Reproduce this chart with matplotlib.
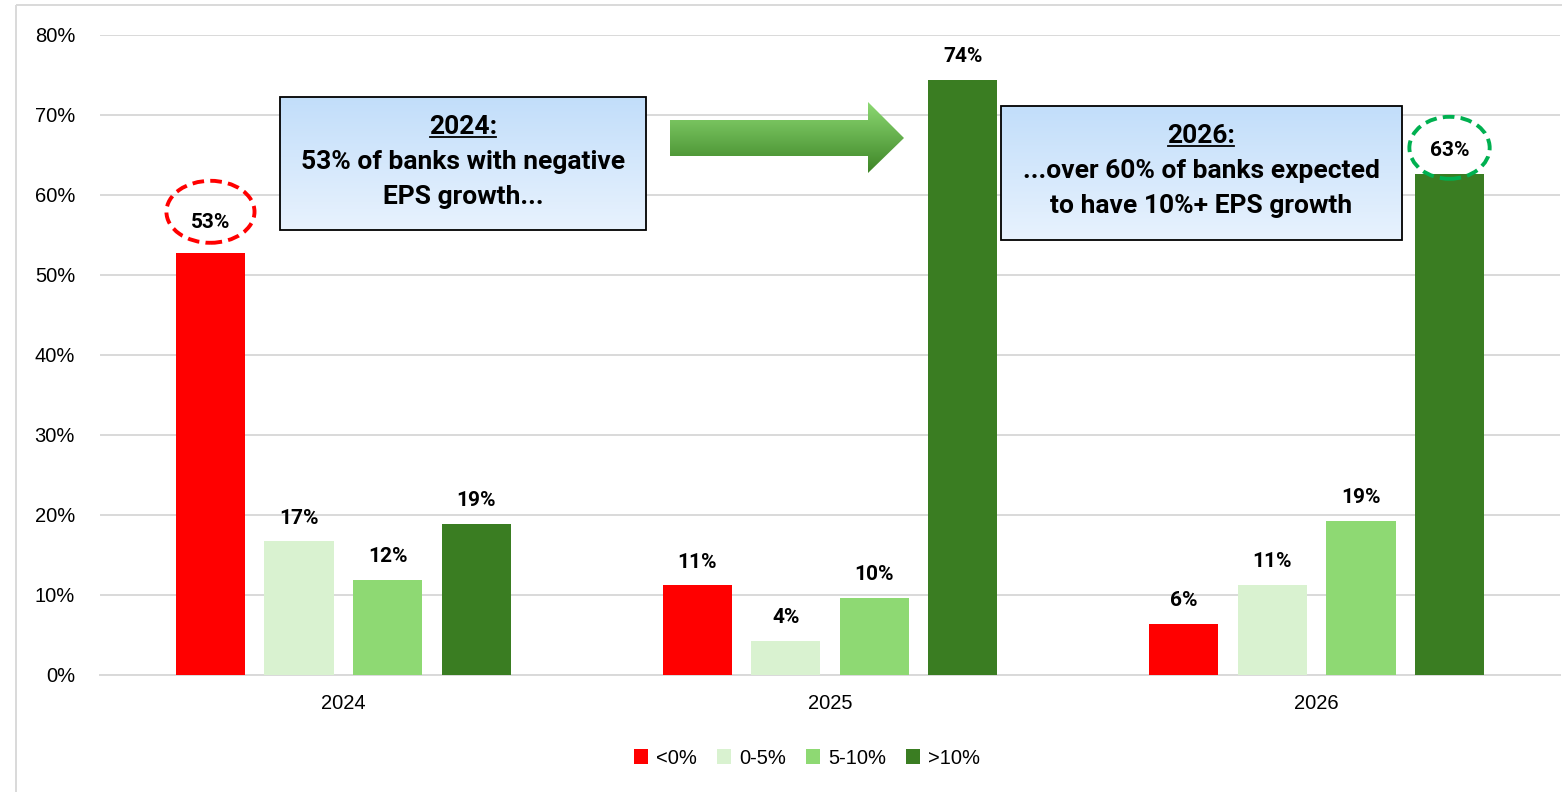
import numpy as np
import matplotlib
matplotlib.use("Agg")
import matplotlib.pyplot as plt
from matplotlib.patches import Rectangle, Ellipse, Polygon
from matplotlib.lines import Line2D

# ---- data ----
years = ["2024", "2025", "2026"]
series_names = ["<0%", "0-5%", "5-10%", ">10%"]
neg = [52.8, 11.2, 6.4]
low = [16.7, 4.3, 11.3]
mid = [11.9, 9.6, 19.3]
high = [18.9, 74.4, 62.6]
labels_neg = ["53%", "11%", "6%"]
labels_low = ["17%", "4%", "11%"]
labels_mid = ["12%", "10%", "19%"]
labels_high = ["19%", "74%", "63%"]
colors = ["#FF0000", "#D9F2D0", "#8ED973", "#3A7D22"]
yticks = [0, 10, 20, 30, 40, 50, 60, 70, 80]
ytick_labels = ["0%", "10%", "20%", "30%", "40%", "50%", "60%", "70%", "80%"]
box1_title = "2024:"
box1_lines = ["53% of banks with negative", "EPS growth..."]
box2_title = "2026:"
box2_lines = ["...over 60% of banks expected", "to have 10%+ EPS growth"]

W, H = 1562, 792
fig = plt.figure(figsize=(W / 100, H / 100), dpi=100)
fig.patch.set_facecolor("white")

ax = fig.add_axes([100 / W, 1 - 675 / H, 1460 / W, 640 / H])
x = np.arange(len(years))
bw = 0.142
step = 0.182
all_series = [neg, low, mid, high]
all_labels = [labels_neg, labels_low, labels_mid, labels_high]
for i, (vals, labs) in enumerate(zip(all_series, all_labels)):
    pos = x + (i - 1.5) * step
    bars = ax.bar(pos, vals, width=bw, color=colors[i], label=series_names[i], zorder=3)
    for j, (b, lab, v) in enumerate(zip(bars, labs, vals)):
        off = 15 if (i == 0 and j == 0) else 10
        ax.annotate(lab, (b.get_x() + b.get_width() / 2, v), xytext=(0, off),
                    textcoords="offset points", ha="center", va="bottom",
                    fontsize=15, fontweight="bold", family="Roboto", color="#000000", zorder=5)

ax.set_xlim(-0.5, 2.5)
ax.set_ylim(0, 80)
ax.set_yticks(yticks)
ax.set_yticklabels(ytick_labels)
ax.set_xticks(x)
ax.set_xticklabels(years)
ax.tick_params(axis="both", length=0, labelsize=14.5, colors="#000000")
ax.tick_params(axis="y", pad=18)
ax.tick_params(axis="x", pad=14)
for lab in ax.get_xticklabels() + ax.get_yticklabels():
    lab.set_family("Liberation Sans")
ax.grid(axis="y", color="#D9D9D9", linewidth=1.4, zorder=0)
for s in ["top", "right", "left"]:
    ax.spines[s].set_visible(False)
ax.spines["bottom"].set_color("#D9D9D9")
ax.spines["bottom"].set_linewidth(1.4)
ax.set_facecolor("none")

# ellipses around highlighted labels (data coords)
ax.add_patch(Ellipse((x[0] - 1.5 * step, 57.9), 0.181, 7.75, fill=False,
                     edgecolor="#FF0000", linestyle=(0, (3, 1.6)), linewidth=2.8, zorder=6, clip_on=False))
ax.add_patch(Ellipse((x[2] + 1.5 * step, 65.9), 0.165, 7.75, fill=False,
                     edgecolor="#00B050", linestyle=(0, (3, 1.6)), linewidth=2.8, zorder=6, clip_on=False))

leg = fig.legend(loc="center", bbox_to_anchor=(807 / W, 1 - 758 / H), ncol=4, frameon=False,
                 handlelength=0.7, handleheight=0.7, handletextpad=0.4, columnspacing=1.0,
                 prop={"family": "Liberation Sans", "size": 14.5})

# overlay axes in pixel coordinates
ov = fig.add_axes([0, 0, 1, 1], zorder=10)
ov.set_xlim(0, W)
ov.set_ylim(H, 0)
ov.axis("off")
ov.patch.set_alpha(0)

# figure frame
ov.add_patch(Rectangle((16, 5), W + 20, H + 20, fill=False, edgecolor="#D9D9D9", linewidth=1.4))

def grad_box(x0, y0, x1, y1):
    grad = np.linspace(0, 1, 256).reshape(-1, 1)
    c_top = np.array([0.76, 0.87, 0.98])
    c_bot = np.array([0.91, 0.95, 0.995])
    img = c_top + (c_bot - c_top) * grad[..., None]
    img = img.reshape(256, 1, 3)
    ov.imshow(img, extent=(x0, x1, y1, y0), aspect="auto", zorder=11)
    ov.add_patch(Rectangle((x0, y0), x1 - x0, y1 - y0, fill=False, edgecolor="black", linewidth=1.3, zorder=12))

grad_box(280, 97, 646, 230)
grad_box(1001, 106, 1402, 240)

tfont = dict(fontsize=19, fontweight="bold", family="Roboto", ha="center", va="center", zorder=13)
t1 = ov.text(463, 127, box1_title, **tfont)
ov.text(463, 162, box1_lines[0], **tfont)
ov.text(463, 197, box1_lines[1], **tfont)
t2 = ov.text(1201, 136, box2_title, **tfont)
ov.text(1201, 171, box2_lines[0], **tfont)
ov.text(1201, 206, box2_lines[1], **tfont)

# arrow with gradient
arrow_pts = [(670, 120), (868, 120), (868, 102), (904, 138), (868, 173), (868, 156), (670, 156)]
poly = Polygon(arrow_pts, closed=True, facecolor="none", edgecolor="none", zorder=11)
ov.add_patch(poly)
g = np.linspace(0, 1, 256).reshape(-1, 1)
c_top = np.array([0.55, 0.85, 0.45])
c_bot = np.array([0.24, 0.52, 0.15])
aimg = (c_top + (c_bot - c_top) * g[..., None]).reshape(256, 1, 3)
im = ov.imshow(aimg, extent=(670, 904, 173, 102), aspect="auto", zorder=11)
im.set_clip_path(poly)

# underline titles
fig.canvas.draw()
inv = ov.transData.inverted()
for t in (t1, t2):
    bb = t.get_window_extent()
    (xa, ya), (xb, yb) = inv.transform([(bb.x0, bb.y0), (bb.x1, bb.y1)])
    ov.add_line(Line2D([xa + 1, xb - 1], [ya - 2, ya - 2], color="black", linewidth=1.3, zorder=13))

fig.savefig("out.png", dpi=100, facecolor="white")
